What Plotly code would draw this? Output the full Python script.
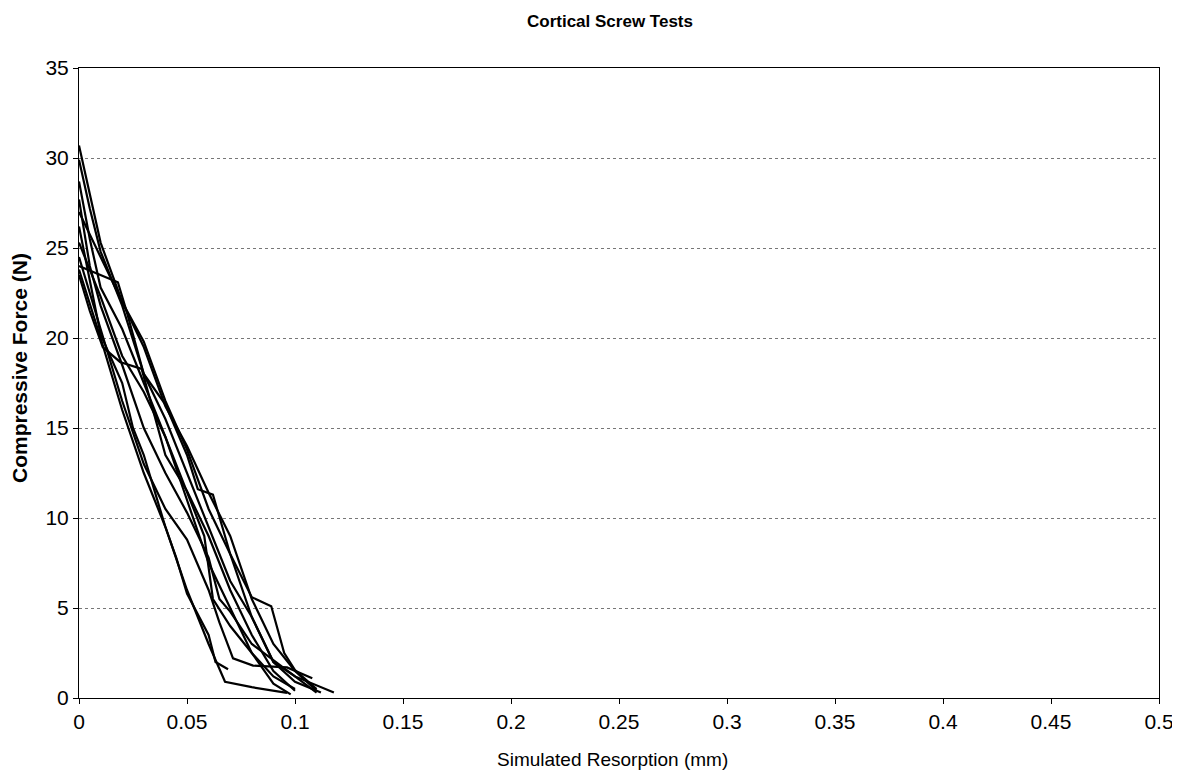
import plotly.graph_objects as go

# Simulated resorption (mm) / compressive force (N) for each cortical screw test
x1 = [0, 0.005, 0.01, 0.02, 0.03, 0.04, 0.05, 0.06, 0.07, 0.08, 0.09, 0.1, 0.11]
y1 = [30.7, 28.0, 25.3, 22.0, 19.5, 16.2, 14.0, 11.4, 9.0, 5.5, 3.0, 1.5, 0.4]
x2 = [0, 0.005, 0.01, 0.02, 0.03, 0.04, 0.05, 0.055, 0.062, 0.07, 0.08, 0.09, 0.1, 0.112]
y2 = [29.9, 27.2, 24.8, 21.8, 18.0, 16.3, 13.5, 11.6, 11.3, 8.0, 4.5, 2.0, 0.9, 0.3]
x3 = [0, 0.005, 0.01, 0.02, 0.03, 0.04, 0.05, 0.06, 0.07, 0.08, 0.09, 0.098]
y3 = [28.7, 25.5, 22.8, 20.5, 17.5, 14.5, 11.0, 7.5, 5.0, 2.5, 0.8, 0.2]
x4 = [0, 0.005, 0.01, 0.02, 0.03, 0.04, 0.05, 0.06, 0.065, 0.07, 0.08, 0.1, 0.118]
y4 = [27.7, 24.0, 21.8, 18.5, 15.0, 12.5, 10.3, 7.8, 5.5, 4.8, 3.0, 1.2, 0.3]
x5 = [0, 0.005, 0.01, 0.02, 0.025, 0.03, 0.04, 0.045, 0.05, 0.06, 0.0632, 0.069]
y5 = [26.2, 23.2, 20.2, 17.5, 15.0, 13.5, 9.5, 7.8, 5.8, 3.5, 2.0, 1.6]
x6 = [0, 0.018, 0.022, 0.03, 0.04, 0.05, 0.06, 0.07, 0.08, 0.09, 0.1, 0.11]
y6 = [24.0, 23.1, 21.5, 18.0, 15.5, 12.5, 9.5, 6.5, 4.5, 2.0, 1.2, 0.3]
x7 = [0, 0.005, 0.011, 0.019, 0.029, 0.033, 0.04, 0.05, 0.06, 0.07, 0.08, 0.09, 0.1]
y7 = [23.5, 21.5, 19.5, 18.67, 18.28, 16.5, 13.5, 11.5, 9.0, 6.0, 3.5, 1.5, 0.4]
x8 = [0, 0.01, 0.02, 0.03, 0.04, 0.05, 0.058, 0.062, 0.07, 0.08, 0.09, 0.1]
y8 = [25.3, 22.3, 19.0, 17.0, 14.5, 11.5, 9.0, 5.5, 4.0, 2.5, 1.2, 0.5]
x9 = [0, 0.01, 0.02, 0.03, 0.04, 0.05, 0.06, 0.065, 0.0713, 0.0806, 0.0963, 0.108]
y9 = [24.5, 20.5, 16.5, 13.0, 10.5, 8.8, 6.0, 4.2, 2.2, 1.8, 1.7, 1.1]
x10 = [0, 0.01, 0.02, 0.03, 0.04, 0.05, 0.06, 0.0676, 0.08, 0.0963]
y10 = [23.8, 20.0, 16.0, 12.5, 9.5, 6.0, 3.0, 0.9, 0.6, 0.28]
x11 = [0, 0.01, 0.02, 0.03, 0.04, 0.05, 0.06, 0.07, 0.08, 0.089, 0.095, 0.1, 0.11]
y11 = [27.0, 24.5, 22.0, 19.8, 16.5, 13.8, 10.5, 8.0, 5.6, 5.1, 2.5, 1.55, 0.5]

series = [(x1, y1), (x2, y2), (x3, y3), (x4, y4), (x5, y5), (x6, y6),
          (x7, y7), (x8, y8), (x9, y9), (x10, y10), (x11, y11)]

x_ticks = [0, 0.05, 0.1, 0.15, 0.2, 0.25, 0.3, 0.35, 0.4, 0.45, 0.5]
x_tick_labels = ["0", "0.05", "0.1", "0.15", "0.2", "0.25", "0.3", "0.35", "0.4", "0.45", "0.5"]
y_ticks = [0, 5, 10, 15, 20, 25, 30, 35]

fig = go.Figure()
for xs, ys in series:
    fig.add_trace(go.Scatter(x=xs, y=ys, mode="lines",
                             line=dict(color="black", width=2.2),
                             showlegend=False, hoverinfo="skip"))

# page body has an 8px margin, so the figure is drawn offset by 8px
OFF = 8
L, T = 79, 68          # target plot-area left/top on the page
PW, PH = 1080, 630     # target plot-area size
W, H = 1180, 773

font_family = "Liberation Sans, Arial, sans-serif"
fig.update_layout(
    width=W, height=H,
    margin=dict(l=L - OFF, r=W - (L - OFF) - PW, t=T - OFF, b=H - (T - OFF) - PH),
    paper_bgcolor="white", plot_bgcolor="white",
    font=dict(family=font_family, color="black", size=21),
    showlegend=False,
)
fig.update_xaxes(range=[0, 0.5], tickvals=x_ticks, ticktext=x_tick_labels,
                 showline=True, linecolor="black", linewidth=1, mirror=True,
                 ticks="outside", ticklen=5, tickcolor="black",
                 showgrid=False, zeroline=False, tickfont=dict(size=21))
fig.update_yaxes(range=[0, 35], tickvals=y_ticks,
                 showline=True, linecolor="black", linewidth=1, mirror=True,
                 ticks="outside", ticklen=5, tickcolor="black",
                 showgrid=True, gridcolor="#777777", gridwidth=1, griddash="dot",
                 zeroline=False, tickfont=dict(size=21))

def px_to_paper_x(px):
    return (px - L) / PW

def py_to_paper_y(py):
    return (T + PH - py) / PH

fig.add_annotation(text="<b>Cortical Screw Tests</b>", xref="paper", yref="paper",
                   x=px_to_paper_x(610), y=py_to_paper_y(21),
                   showarrow=False, font=dict(size=17), xanchor="center", yanchor="middle")
fig.add_annotation(text="<b>Compressive Force (N)</b>", xref="paper", yref="paper",
                   x=px_to_paper_x(19), y=py_to_paper_y(368), textangle=-90, showarrow=False,
                   font=dict(size=21), xanchor="center", yanchor="middle")
fig.add_annotation(text="Simulated Resorption (mm)", xref="paper", yref="paper",
                   x=px_to_paper_x(612), y=py_to_paper_y(759), showarrow=False,
                   font=dict(size=19), xanchor="center", yanchor="middle")

fig.write_html("out.html")
